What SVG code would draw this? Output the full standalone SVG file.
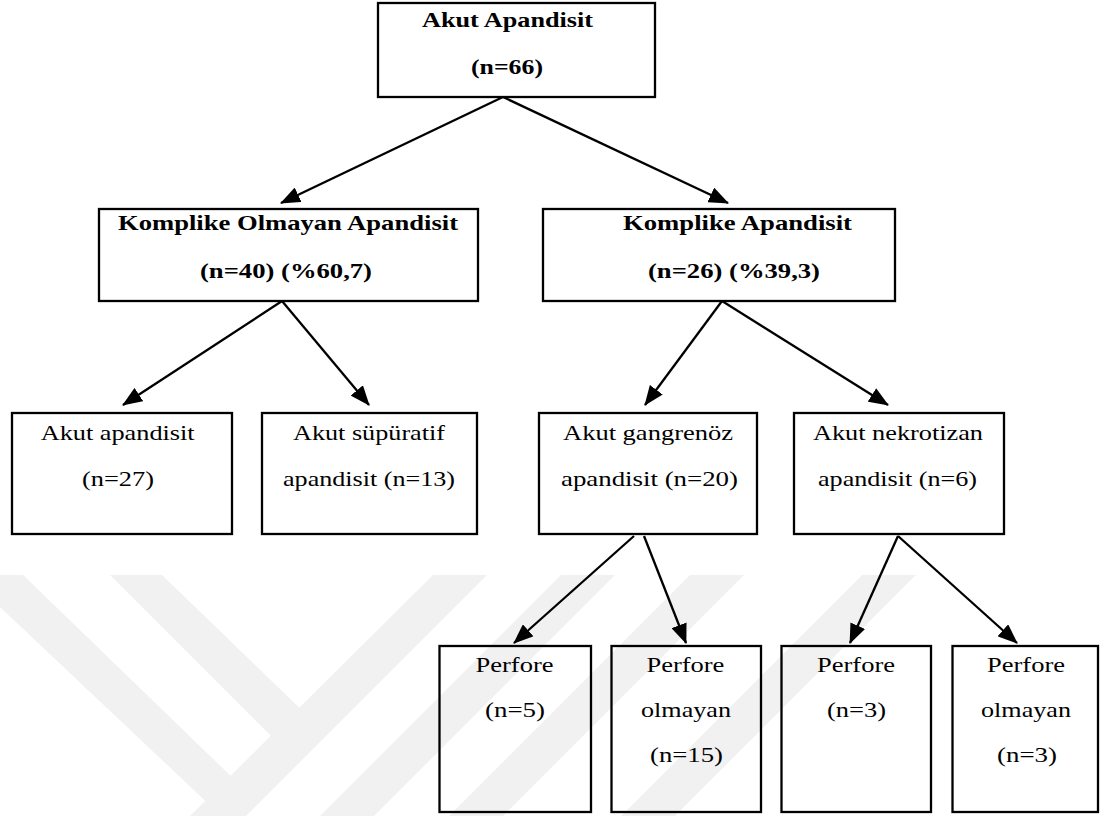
<svg xmlns="http://www.w3.org/2000/svg" width="1101" height="816" viewBox="0 0 1101 816">
<style>
.box{fill:none;stroke:#000;stroke-width:2.3}
.b{font-weight:bold}
.edge{stroke:#000;stroke-width:2.3;fill:none;marker-end:url(#ah)}
.wm{fill:#f1f1f1}
</style>
<defs>
<marker id="ah" markerUnits="userSpaceOnUse" markerWidth="20" markerHeight="16" refX="19" refY="8" orient="auto" viewBox="0 0 20 16">
<path d="M0,0 L20,8 L0,16 z" fill="#000"/>
</marker>
</defs>
<rect width="1101" height="816" fill="#fff"/>
<g id="watermark">
<polygon class="wm" points="0,575 23,575 240,785 215,810 0,607"/>
<polygon class="wm" points="110,575 162,575 310,718 280,745"/>
<polygon class="wm" points="433,575 487,575 246,816 190,816"/>
<polygon class="wm" points="561,575 615,575 374,816 320,816"/>
<polygon class="wm" points="690,575 744,575 503,816 449,816"/>
<polygon class="wm" points="862,575 916,575 675,816 621,816"/>
</g>
<g id="connectors">
<line class="edge" x1="503" y1="97" x2="281" y2="203"/>
<line class="edge" x1="503" y1="97" x2="728" y2="203"/>
<line class="edge" x1="282" y1="301" x2="123" y2="405"/>
<line class="edge" x1="282" y1="301" x2="369" y2="405"/>
<line class="edge" x1="722" y1="301" x2="645" y2="405"/>
<line class="edge" x1="722" y1="301" x2="888" y2="405"/>
<line class="edge" x1="634" y1="536" x2="514" y2="643"/>
<line class="edge" x1="644" y1="536" x2="686" y2="643"/>
<line class="edge" x1="898" y1="536" x2="850" y2="643"/>
<line class="edge" x1="898" y1="536" x2="1017" y2="643"/>
</g>
<g font-family="Liberation Serif, Times New Roman, serif" font-size="21" fill="#000">
<g id="n_root">
<rect class="box" x="378" y="3" width="277" height="94"/>
<text class="b" x="422" y="27" textLength="171" lengthAdjust="spacingAndGlyphs">Akut Apandisit</text>
<text class="b" x="471" y="74" textLength="72" lengthAdjust="spacingAndGlyphs">(n=66)</text>
</g>
<g id="n_komplike_olmayan">
<rect class="box" x="99" y="209" width="379" height="92"/>
<text class="b" x="118" y="230" textLength="340" lengthAdjust="spacingAndGlyphs">Komplike Olmayan Apandisit</text>
<text class="b" x="200" y="278" textLength="172" lengthAdjust="spacingAndGlyphs">(n=40) (%60,7)</text>
</g>
<g id="n_komplike">
<rect class="box" x="543" y="209" width="352" height="92"/>
<text class="b" x="623" y="230" textLength="229" lengthAdjust="spacingAndGlyphs">Komplike Apandisit</text>
<text class="b" x="648" y="278" textLength="172" lengthAdjust="spacingAndGlyphs">(n=26) (%39,3)</text>
</g>
<g id="n_akut">
<rect class="box" x="12" y="413" width="220" height="121"/>
<text x="40.7" y="440" textLength="154" lengthAdjust="spacingAndGlyphs">Akut apandisit</text>
<text x="82" y="486" textLength="72" lengthAdjust="spacingAndGlyphs">(n=27)</text>
</g>
<g id="n_supuratif">
<rect class="box" x="262" y="413" width="215" height="121"/>
<text x="293" y="440" textLength="152" lengthAdjust="spacingAndGlyphs">Akut süpüratif</text>
<text x="283" y="486" textLength="172" lengthAdjust="spacingAndGlyphs">apandisit (n=13)</text>
</g>
<g id="n_gangrenoz">
<rect class="box" x="539" y="413" width="218" height="121"/>
<text x="563" y="440" textLength="170" lengthAdjust="spacingAndGlyphs">Akut gangrenöz</text>
<text x="561" y="486" textLength="177" lengthAdjust="spacingAndGlyphs">apandisit (n=20)</text>
</g>
<g id="n_nekrotizan">
<rect class="box" x="794" y="413" width="210" height="121"/>
<text x="813" y="440" textLength="170" lengthAdjust="spacingAndGlyphs">Akut nekrotizan</text>
<text x="818" y="486" textLength="159" lengthAdjust="spacingAndGlyphs">apandisit (n=6)</text>
</g>
<g id="n_g_perfore">
<rect class="box" x="439.5" y="646" width="151.5" height="166"/>
<text x="475.5" y="672" textLength="78" lengthAdjust="spacingAndGlyphs">Perfore</text>
<text x="485" y="717" textLength="60" lengthAdjust="spacingAndGlyphs">(n=5)</text>
</g>
<g id="n_g_olmayan">
<rect class="box" x="611.5" y="646" width="149.5" height="166"/>
<text x="646.4" y="672" textLength="78" lengthAdjust="spacingAndGlyphs">Perfore</text>
<text x="641" y="717" textLength="90" lengthAdjust="spacingAndGlyphs">olmayan</text>
<text x="650" y="762" textLength="73" lengthAdjust="spacingAndGlyphs">(n=15)</text>
</g>
<g id="n_n_perfore">
<rect class="box" x="781.5" y="646" width="149.5" height="166"/>
<text x="817" y="672" textLength="78" lengthAdjust="spacingAndGlyphs">Perfore</text>
<text x="827" y="717" textLength="59" lengthAdjust="spacingAndGlyphs">(n=3)</text>
</g>
<g id="n_n_olmayan">
<rect class="box" x="952.5" y="646" width="145.5" height="166"/>
<text x="987" y="672" textLength="78" lengthAdjust="spacingAndGlyphs">Perfore</text>
<text x="981" y="717" textLength="90" lengthAdjust="spacingAndGlyphs">olmayan</text>
<text x="997" y="762" textLength="60" lengthAdjust="spacingAndGlyphs">(n=3)</text>
</g>
</g>
</svg>
